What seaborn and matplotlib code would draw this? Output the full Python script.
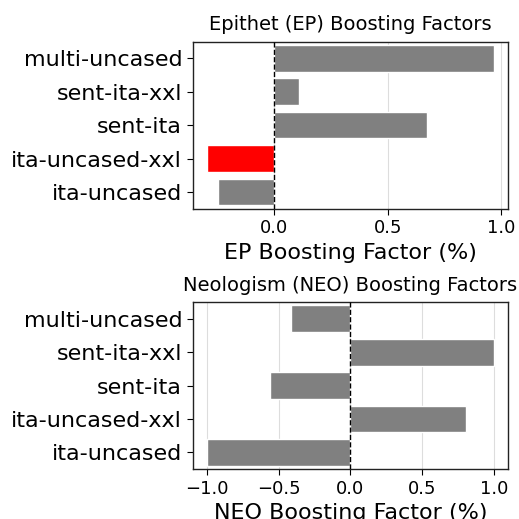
import matplotlib
matplotlib.use("Agg")
import matplotlib.pyplot as plt
import seaborn as sns

# datos
models = ["multi-uncased", "sent-ita-xxl", "sent-ita", "ita-uncased-xxl", "ita-uncased"]
ep_values = [0.968, 0.107, 0.673, -0.297, -0.248]
neo_values = [-0.414, 1.0, -0.563, 0.809, -1.0]
ep_colors = ["gray", "gray", "gray", "red", "gray"]
neo_colors = ["gray", "gray", "gray", "gray", "gray"]

sns.set_style("white", {"text.color": "black", "axes.labelcolor": "black",
                        "xtick.color": "black", "ytick.color": "black"})

fig, axes = plt.subplots(2, 1, figsize=(5.19, 5.19), dpi=100)
fig.subplots_adjust(left=0.371, right=0.979, top=0.920, bottom=0.096, hspace=0.558)

panels = [
    (axes[0], ep_values, ep_colors, "Epithet (EP) Boosting Factors", "EP Boosting Factor (%)"),
    (axes[1], neo_values, neo_colors, "Neologism (NEO) Boosting Factors", "NEO Boosting Factor (%)"),
]

for ax, vals, cols, title, xlabel in panels:
    sns.barplot(x=vals, y=models, hue=models, palette=cols, legend=False,
                saturation=1, width=0.8, ax=ax, zorder=2)
    ax.axvline(0, color="black", linestyle="--", linewidth=1, zorder=3)
    ax.grid(True, axis="x", color="#dddddd", linewidth=0.8, zorder=0)
    ax.set_axisbelow(True)
    ax.set_title(title, fontsize=14, pad=8, color="black")
    ax.set_xlabel(xlabel, fontsize=16)
    ax.set_ylabel("")
    ax.tick_params(axis="y", labelsize=16, left=True, length=4)
    ax.tick_params(axis="x", labelsize=13, bottom=True, length=4)
    for s in ax.spines.values():
        s.set_color("#222222")
        s.set_linewidth(1)

axes[0].set_xticks([0.0, 0.5, 1.0])
axes[1].set_xticks([-1.0, -0.5, 0.0, 0.5, 1.0])

plt.savefig("out.png", dpi=100)
